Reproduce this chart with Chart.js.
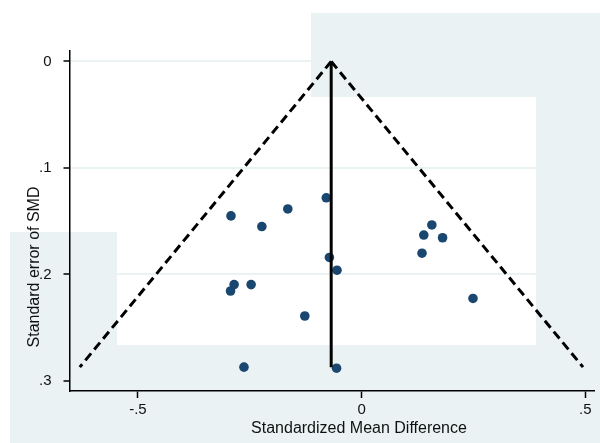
<!DOCTYPE html>
<html>
<head>
<meta charset="utf-8">
<script src="https://cdn.jsdelivr.net/npm/chart.js@4.4.1/dist/chart.umd.min.js"></script>
<style>
  html, body { margin: 0; padding: 0; background: #fff; }
  #wrap { width: 600px; height: 443px; }
</style>
</head>
<body>
<div id="wrap"><canvas id="funnel" width="600" height="443"></canvas></div>
<script>
// ─── DATA ─────────────────────────────────────────────────────
const smd   = [-0.292, -0.223, -0.165, -0.079, -0.072, -0.055, -0.285, -0.293, -0.247, -0.127,
                0.157, 0.139, 0.181, 0.135, 0.249, -0.263, -0.056];
const seSMD = [0.145, 0.155, 0.1385, 0.128, 0.184, 0.196, 0.2095, 0.2155, 0.2095, 0.239,
               0.1535, 0.163, 0.1655, 0.180, 0.2225, 0.287, 0.288];

const pooledSMD  = -0.068;
const funnelSE   = [0, 0.287];
const lowerLimit = [-0.068, -0.630];
const upperLimit = [-0.068, 0.495];

const xTicks      = [-0.5, 0, 0.5];
const xTickLabels = ['-.5', '0', '.5'];
const yTicks      = [0, 0.1, 0.2, 0.3];
const yTickLabels = ['0', '.1', '.2', '.3'];

const xTitle = 'Standardized Mean Difference';
const yTitle = 'Standard error of SMD';

// ─── STYLE ────────────────────────────────────────────────────
const FONT  = '"Liberation Sans", Arial, sans-serif';
const LIGHT = '#eaf2f3';
const NAVY  = '#1a476f';

// odd Stata background patches (pixels)
const bgPatches = [
    [311, 13, 289, 84],
    [536, 97, 64, 346],
    [10, 232, 107, 211],
    [10, 345, 590, 98],
];

const backgroundPlugin = {
    id: 'stataBackground',
    beforeDraw(chart) {
        const ctx = chart.ctx;
        ctx.save();
        ctx.fillStyle = '#fff';
        ctx.fillRect(0, 0, chart.width, chart.height);
        ctx.fillStyle = LIGHT;
        bgPatches.forEach(p => ctx.fillRect(p[0], p[1], p[2], p[3]));
        ctx.restore();
    }
};

const titlesPlugin = {
    id: 'axisTitles',
    afterDraw(chart) {
        const ctx = chart.ctx;
        ctx.save();
        ctx.fillStyle = '#111';
        ctx.font = '16px ' + FONT;
        ctx.textAlign = 'center';
        ctx.textBaseline = 'middle';
        ctx.fillText(xTitle, 359, 429);
        ctx.translate(35, 267);
        ctx.rotate(-Math.PI / 2);
        ctx.fillText(yTitle, 0, 0);
        ctx.restore();
    }
};

// ─── CHART ────────────────────────────────────────────────────
new Chart(document.getElementById('funnel'), {
    type: 'scatter',
    data: {
        datasets: [
            {
                data: funnelSE.map((s, i) => ({ x: lowerLimit[i], y: s })),
                showLine: true, borderColor: '#000', borderWidth: 3,
                borderDash: [9, 5], pointRadius: 0
            },
            {
                data: funnelSE.map((s, i) => ({ x: upperLimit[i], y: s })),
                showLine: true, borderColor: '#000', borderWidth: 3,
                borderDash: [9, 5], pointRadius: 0
            },
            {
                data: funnelSE.map(s => ({ x: pooledSMD, y: s })),
                showLine: true, borderColor: '#000', borderWidth: 3, pointRadius: 0
            },
            {
                data: smd.map((x, i) => ({ x: x, y: seSMD[i] })),
                backgroundColor: NAVY, borderWidth: 0, pointRadius: 4.8
            }
        ]
    },
    options: {
        responsive: false,
        animation: false,
        devicePixelRatio: 1,
        layout: { padding: { top: 50.7, right: 6, left: 0, bottom: 0 } },
        plugins: { legend: { display: false }, tooltip: { enabled: false } },
        scales: {
            x: {
                type: 'linear',
                min: -0.653, max: 0.5195,
                afterBuildTicks: s => { s.ticks = xTicks.map(v => ({ value: v })); },
                afterFit: s => { s.height = 52; },
                ticks: {
                    callback: v => xTickLabels[xTicks.indexOf(v)],
                    color: '#111', font: { family: FONT, size: 15 },
                    padding: 3, maxRotation: 0, autoSkip: false
                },
                grid: { drawOnChartArea: false, tickLength: 7, tickColor: '#000', tickWidth: 1.5 },
                border: { color: '#000', width: 1.5 }
            },
            y: {
                type: 'linear',
                reverse: true,
                min: -0.0101, max: 0.3094,
                afterBuildTicks: s => { s.ticks = yTicks.map(v => ({ value: v })); },
                afterFit: s => { s.width = 69.5; },
                ticks: {
                    callback: v => yTickLabels[yTicks.indexOf(v)],
                    color: '#111', font: { family: FONT, size: 15 },
                    padding: 12, autoSkip: false
                },
                grid: { color: LIGHT, lineWidth: 2, tickLength: 6, tickColor: '#000', tickWidth: 1.5 },
                border: { color: '#000', width: 1.5 }
            }
        }
    },
    plugins: [backgroundPlugin, titlesPlugin]
});
</script>
</body>
</html>
